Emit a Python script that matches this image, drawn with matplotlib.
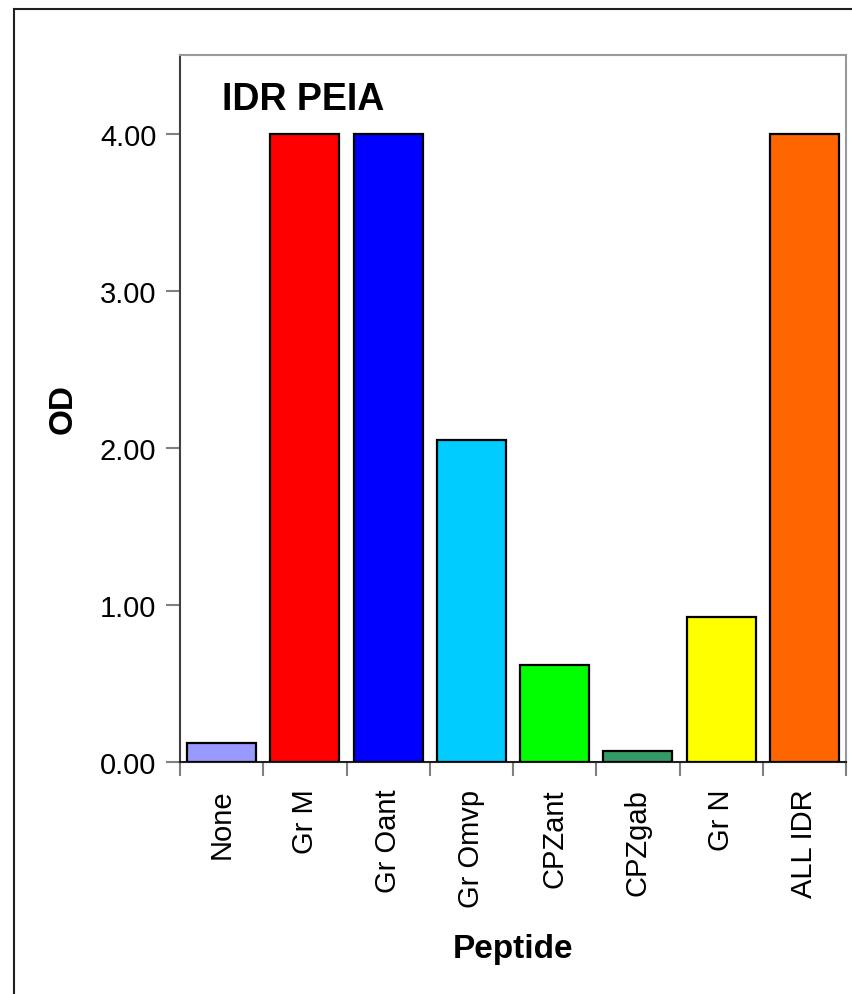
import matplotlib
matplotlib.use("Agg")
import matplotlib.pyplot as plt
from matplotlib.patches import Rectangle

categories = ["None", "Gr M", "Gr Oant", "Gr Omvp", "CPZant", "CPZgab", "Gr N", "ALL IDR"]
values = [0.12, 4.00, 4.00, 2.05, 0.62, 0.07, 0.92, 4.00]
colors = ["#9999FF", "#FF0000", "#0000FF", "#00CCFF", "#00FF00", "#339966", "#FFFF00", "#FF6600"]
yticks = [0.0, 1.0, 2.0, 3.0, 4.0]
ytick_labels = ["0.00", "1.00", "2.00", "3.00", "4.00"]

plt.rcParams['font.family'] = ['Liberation Sans', 'DejaVu Sans']

W, H = 852, 995
fig = plt.figure(figsize=(W / 100, H / 100), dpi=100)
ax = fig.add_axes([180 / W, 1 - 763 / H, (846 - 180) / W, (763 - 56) / H])

x = list(range(len(categories)))
ax.bar(x, values, width=0.83, color=colors, edgecolor="black", linewidth=1.6, zorder=3)

ax.set_xlim(-0.5, len(categories) - 0.5)
ax.set_ylim(0, 4.5)

ax.set_yticks(yticks)
ax.set_yticklabels(ytick_labels, fontsize=21)
ax.tick_params(axis='y', length=10, width=1.5, color="#808080", pad=7, direction='out')

# major x ticks at category boundaries (no labels), labels at centres via minor ticks
ax.set_xticks([i - 0.5 for i in range(len(categories) + 1)])
ax.set_xticklabels([""] * (len(categories) + 1))
ax.tick_params(axis='x', which='major', length=10, width=1.5, color="#808080", direction='out')
ax.set_xticks(x, minor=True)
ax.set_xticklabels(categories, minor=True, rotation=90, fontsize=21, va='top')
ax.tick_params(axis='x', which='minor', length=0, pad=19)

for side in ["top", "right"]:
    ax.spines[side].set_color("#999999")
    ax.spines[side].set_linewidth(1.5)
ax.spines["left"].set_color("#404040")
ax.spines["left"].set_linewidth(1.5)
ax.spines["bottom"].set_color("#202020")
ax.spines["bottom"].set_linewidth(1.5)

ax.set_ylabel("OD", fontsize=24, fontweight='bold')
ax.yaxis.set_label_coords((79 - 180) / 666, 0.5)
ax.set_xlabel("Peptide", fontsize=24, fontweight='bold')
ax.xaxis.set_label_coords(0.5, -(950 - 763) / 707)
ax.xaxis.label.set_va('center')

ax.text((222 - 180) / 666, (763 - 100) / 707, "IDR PEIA", transform=ax.transAxes,
        fontsize=27, fontweight='bold', ha='left', va='center')

# outer chart frame (extends past right/bottom edge of the image)
fig.patches.append(Rectangle((14 / W, -0.2), 1.5, 1 - 10 / H + 0.2, transform=fig.transFigure,
                             fill=False, edgecolor="#202020", linewidth=1.5, clip_on=False))

fig.savefig("out.png", dpi=100)
